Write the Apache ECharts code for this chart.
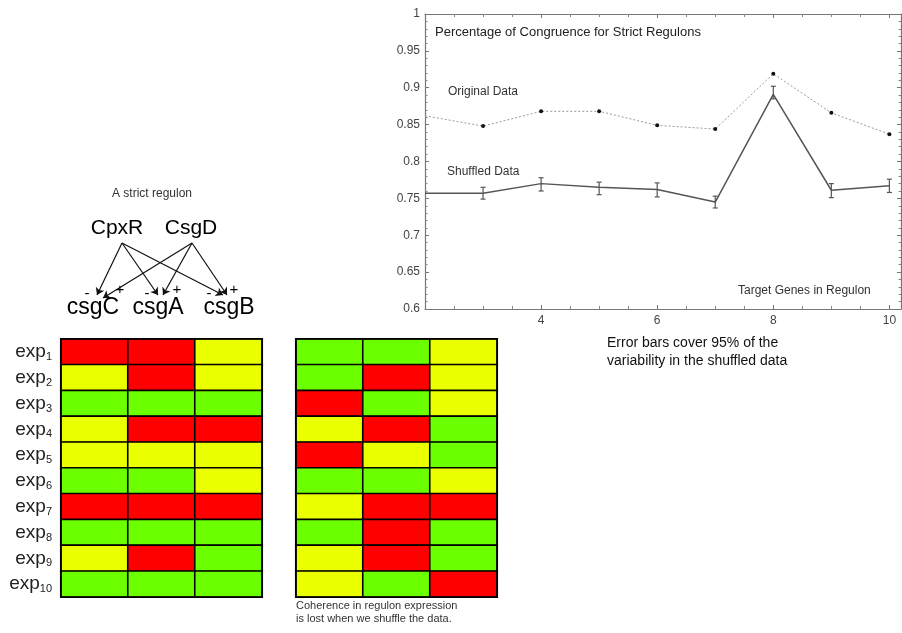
<!DOCTYPE html>
<html><head><meta charset="utf-8">
<script src="https://cdn.jsdelivr.net/npm/echarts@6/dist/echarts.min.js"></script>
<style>html,body{margin:0;padding:0;background:#fff}#c{width:902px;height:633px}</style>
</head><body><div id="c"></div>
<script>
// ---- line chart data ----
const targetGenes = [2, 3, 4, 5, 6, 7, 8, 9, 10];
const originalCongruence = [0.862, 0.848, 0.868, 0.868, 0.849, 0.844, 0.919, 0.866, 0.837];
const shuffledCongruence = [0.757, 0.757, 0.770, 0.765, 0.762, 0.745, 0.891, 0.761, 0.767];
const shuffledLow  = [null, 0.749, 0.760, 0.755, 0.752, 0.737, 0.885, 0.751, 0.758];
const shuffledHigh = [null, 0.765, 0.778, 0.772, 0.771, 0.753, 0.902, 0.770, 0.776];
// ---- heatmap data: 0 = red, 1 = yellow, 2 = green ----
const genes = ['csgC', 'csgA', 'csgB'];
const expIds = ['1','2','3','4','5','6','7','8','9','10'];
const originalExpr = [[0,0,1],[1,0,1],[2,2,2],[1,0,0],[1,1,1],[2,2,1],[0,0,0],[2,2,2],[1,0,2],[2,2,2]];
const shuffledExpr = [[2,2,1],[2,0,1],[0,2,1],[1,0,2],[0,1,2],[2,2,1],[1,0,0],[2,0,2],[1,0,2],[1,2,0]];
// ---- regulon diagram (abstract layout units) ----
const regulators = ['CpxR', 'CsgD'];
const targets = ['csgC', 'csgA', 'csgB'];
const regulatorPos = [[67, 48], [141, 48]];
const targetPos = [[43, 128], [108, 128], [179, 128]];
const arrowStart = [[72, 63], [142, 63]];
const arrowEnd = [[[47, 115], [108, 115], [173, 115]], [[53, 118], [113, 115], [177, 115]]];
const signMinus = [[37, 114], [97, 114], [159, 114]];
const signPlus = [[70, 110], [127, 110], [184, 110]];

const colors = ['#ff0000', '#eaff00', '#6cff00'];

const chart = echarts.init(document.getElementById('c'));
const font = 'Liberation Sans, Arial, sans-serif';

function heatData(m) {
  const d = [];
  m.forEach((row, r) => row.forEach((v, c) => d.push([c, r, v])));
  return d;
}
const heatYAxis = (gi, showLabels) => ({
  type: 'category', gridIndex: gi, data: expIds, inverse: true,
  axisLine: {show: false}, axisTick: {show: false},
  axisLabel: {show: showLabels, margin: 9, fontFamily: font,
    formatter: v => '{b|exp}{s|' + v + '}',
    rich: {b: {fontSize: 19, color: '#222', fontFamily: font}, s: {fontSize: 11, color: '#222', fontFamily: font, padding: [10, 0, 0, 0]}}}
});
const heatXAxis = gi => ({type: 'category', gridIndex: gi, data: genes, show: false});

const frameAxisCommon = {
  axisLine: {lineStyle: {color: '#777', width: 1.2}},
  axisTick: {inside: true, length: 4, lineStyle: {color: '#777'}},
  minorTick: {show: true, length: 2.5, lineStyle: {color: '#888'}},
  splitLine: {show: false}
};

const option = {
  backgroundColor: '#fff',
  animation: false,
  grid: [
    {left: 425, top: 14, width: 476, height: 295},
    {left: 61, top: 339, width: 201, height: 258},
    {left: 296, top: 339, width: 201, height: 258},
    {left: 50, top: 180, width: 230, height: 150}
  ],
  xAxis: [
    Object.assign({type: 'value', gridIndex: 0, min: 2, max: 10.2, interval: 2, position: 'bottom',
      axisLabel: {color: '#444', fontSize: 12, fontFamily: font, showMinLabel: false, showMaxLabel: false, margin: 6}},
      JSON.parse(JSON.stringify(frameAxisCommon)), {minorTick: {show: true, splitNumber: 4, length: 3, lineStyle: {color: '#888'}}}),
    Object.assign({type: 'value', gridIndex: 0, min: 2, max: 10.2, interval: 2, position: 'top', axisLabel: {show: false}},
      JSON.parse(JSON.stringify(frameAxisCommon)), {minorTick: {show: true, splitNumber: 4, length: 3, lineStyle: {color: '#888'}}}),
    heatXAxis(1), heatXAxis(2),
    {type: 'value', gridIndex: 3, min: 0, max: 230, show: false}
  ],
  yAxis: [
    Object.assign({type: 'value', gridIndex: 0, min: 0.6, max: 1, interval: 0.05, position: 'left',
      axisLabel: {color: '#444', fontSize: 12, fontFamily: font, margin: 5}},
      JSON.parse(JSON.stringify(frameAxisCommon)), {minorTick: {show: true, splitNumber: 5, length: 2.5, lineStyle: {color: '#888'}}}),
    Object.assign({type: 'value', gridIndex: 0, min: 0.6, max: 1, interval: 0.05, position: 'right', axisLabel: {show: false}},
      JSON.parse(JSON.stringify(frameAxisCommon)), {minorTick: {show: true, splitNumber: 5, length: 2.5, lineStyle: {color: '#888'}}}),
    heatYAxis(1, true), heatYAxis(2, false),
    {type: 'value', gridIndex: 3, min: 0, max: 150, inverse: true, show: false}
  ],
  visualMap: {
    type: 'piecewise', show: false, seriesIndex: [3, 4], dimension: 2,
    pieces: [{value: 0, color: colors[0]}, {value: 1, color: colors[1]}, {value: 2, color: colors[2]}]
  },
  series: [
    {
      type: 'line', name: 'Original Data', xAxisIndex: 0, yAxisIndex: 0,
      data: targetGenes.map((x, i) => ({value: [x, originalCongruence[i]], symbol: i === 0 ? 'none' : 'circle'})),
      symbolSize: 4, itemStyle: {color: '#111'},
      lineStyle: {color: '#9a9a9a', width: 1, type: [2, 2]}, z: 3
    },
    {
      type: 'line', name: 'Shuffled Data', xAxisIndex: 0, yAxisIndex: 0,
      data: targetGenes.map((x, i) => [x, shuffledCongruence[i]]),
      showSymbol: false, symbol: 'none',
      lineStyle: {color: '#555', width: 1.5}, z: 3
    },
    {
      type: 'custom', name: 'Error', xAxisIndex: 0, yAxisIndex: 0,
      data: targetGenes.map((x, i) => [x, shuffledLow[i], shuffledHigh[i]]).filter(d => d[1] !== null),
      renderItem: (params, api) => {
        const lo = api.coord([api.value(0), api.value(1)]);
        const hi = api.coord([api.value(0), api.value(2)]);
        const w = 2.5;
        const st = {stroke: '#555', lineWidth: 1.2};
        return {type: 'group', children: [
          {type: 'line', shape: {x1: lo[0], y1: lo[1], x2: hi[0], y2: hi[1]}, style: st},
          {type: 'line', shape: {x1: lo[0] - w, y1: lo[1], x2: lo[0] + w, y2: lo[1]}, style: st},
          {type: 'line', shape: {x1: hi[0] - w, y1: hi[1], x2: hi[0] + w, y2: hi[1]}, style: st}
        ]};
      }, z: 4
    },
    {
      type: 'heatmap', xAxisIndex: 2, yAxisIndex: 2, data: heatData(originalExpr),
      itemStyle: {borderColor: '#000', borderWidth: 1.6}
    },
    {
      type: 'heatmap', xAxisIndex: 3, yAxisIndex: 3, data: heatData(shuffledExpr),
      itemStyle: {borderColor: '#000', borderWidth: 1.6}
    },
    {
      type: 'lines', coordinateSystem: 'cartesian2d', xAxisIndex: 4, yAxisIndex: 4,
      symbol: ['none', 'arrow'], symbolSize: [0, 7],
      lineStyle: {color: '#111', width: 1.2, opacity: 1},
      data: arrowStart.flatMap((s, r) => arrowEnd[r].map(e => ({coords: [s, e]})))
    },
    {
      type: 'scatter', xAxisIndex: 4, yAxisIndex: 4, symbolSize: 0, silent: true,
      itemStyle: {opacity: 1},
      label: {show: true, position: 'inside', formatter: p => p.data.name, color: '#000', fontFamily: font, fontSize: 21},
      data: regulators.map((n, i) => ({name: n, value: regulatorPos[i]}))
        .concat(targets.map((n, i) => ({name: n, value: targetPos[i], label: {fontSize: 23}})))
        .concat(signMinus.map(p => ({name: '-', value: p, label: {fontSize: 15}})))
        .concat(signPlus.map(p => ({name: '+', value: p, label: {fontSize: 15}})))
        .concat([{name: 'A strict regulon', value: [102, 14], label: {fontSize: 12, color: '#333'}}])
    }
  ],
  graphic: [
    {type: 'text', left: 435, top: 26, style: {text: 'Percentage of Congruence for Strict Regulons', font: '13px ' + font, fill: '#222'}},
    {type: 'text', left: 448, top: 86, style: {text: 'Original Data', font: '12px ' + font, fill: '#333'}},
    {type: 'text', left: 447, top: 166, style: {text: 'Shuffled Data', font: '12px ' + font, fill: '#333'}},
    {type: 'text', left: 738, top: 285, style: {text: 'Target Genes in Regulon', font: '12px ' + font, fill: '#333'}},
    {type: 'text', left: 607, top: 334, style: {text: 'Error bars cover 95% of the\nvariability in the shuffled data', font: '14px ' + font, fill: '#111', lineHeight: 18}},
    {type: 'text', left: 296, top: 599, style: {text: 'Coherence in regulon expression\nis lost when we shuffle the data.', font: '11px ' + font, fill: '#333', lineHeight: 13}},
    {type: 'rect', shape: {x: 61, y: 339, width: 201, height: 258}, style: {fill: 'none', stroke: '#000', lineWidth: 1.6}, z: 10},
    {type: 'rect', shape: {x: 296, y: 339, width: 201, height: 258}, style: {fill: 'none', stroke: '#000', lineWidth: 1.6}, z: 10}
  ]
};
chart.setOption(option);
</script></body></html>
